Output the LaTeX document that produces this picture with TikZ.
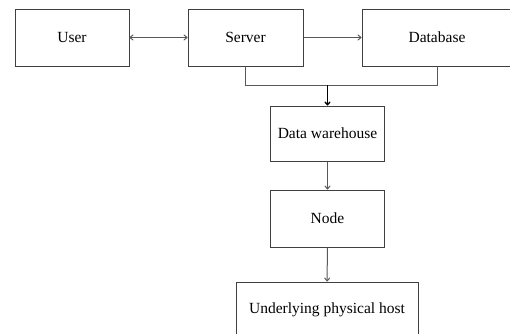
\documentclass[tikz,border=0pt]{standalone}
\usepackage{fontspec}
\setmainfont{Liberation Serif}
\usetikzlibrary{arrows.meta}
\tikzset{
	box/.style={draw=black!75, line width=1pt, inner sep=0pt, font=\fontsize{15.5}{18}\selectfont},
	link/.style={draw=black!65, line width=1pt, -{To[length=4pt,width=6pt]}},
}

\begin{document}
\begin{tikzpicture}[x=1pt, y=-1pt]
		%%%%% START %%%%%
		\useasboundingbox (0, 0) rectangle (510, 333);
		
		\node[box, minimum width=114, minimum height=57] (user) at (72, 37.5) {User};
		\node[box, minimum width=115, minimum height=57] (server) at (245.5, 37.5) {Server};
		\node[box, minimum width=150, minimum height=57] (database) at (437, 37.5) {Database};
		
		\node[box, minimum width=114, minimum height=55] (warehouse) at (327.5, 133.5) {Data warehouse};
		\node[box, minimum width=114, minimum height=57] (vmnode) at (327.5, 218.5) {Node};
		\node[box, minimum width=182, minimum height=55] (host) at (327, 309.5) {Underlying physical host};
		
		\draw[link, {To[length=4pt,width=6pt]}-{To[length=4pt,width=6pt]}] (user) -- (server);
		\draw[link] (server) -- (database);
		
		\draw[draw=black!65, line width=1pt] (server.south) |- (245.5, 85) -| (database.south);
		\coordinate (merge) at (warehouse.north |- 0, 85);
		\draw[link, draw=black, line width=1.3pt] (merge) -- (warehouse.north);
		
		\draw[link] (warehouse) -- (vmnode);
		\draw[link] (vmnode) -- (host);
		%%%%% END %%%%%
	\end{tikzpicture}
\end{document}
